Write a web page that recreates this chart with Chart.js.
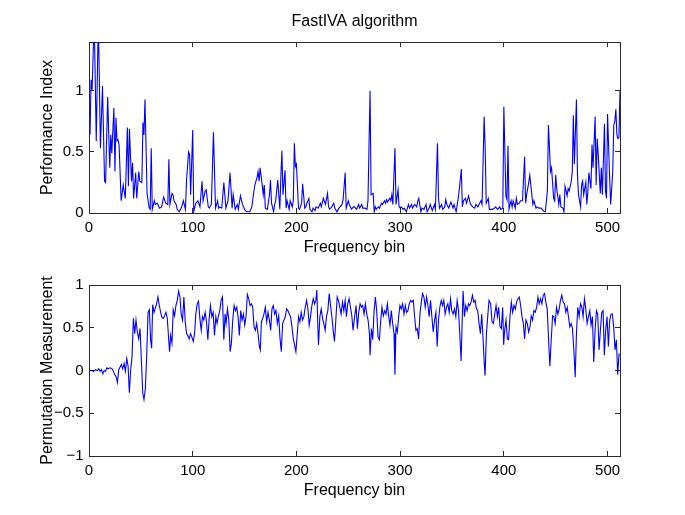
<!DOCTYPE html>
<html>
<head>
<meta charset="utf-8">
<script src="https://cdn.jsdelivr.net/npm/chart.js@4"></script>
<style>
  body { margin: 0; background: #fff; }
  #wrap { position: relative; width: 685px; height: 515px; }
  canvas { position: absolute; left: 0; }
</style>
</head>
<body>
<div id="wrap">
  <canvas id="perfChart" width="685" height="260" style="top:0"></canvas>
  <canvas id="permChart" width="685" height="255" style="top:260px"></canvas>
</div>
<script>
// [frequency bin, value]
const perfIndex = [
  [1,0.64],[2,1.09],[3,1.01],[5,1.6],[7,0.59],[9,1.6],[11,0.53],[13,1.04],[15,0.26],[16,0.25],
  [18,0.95],[20,0.37],[21,0.64],[22,0.49],[24,0.86],[25,0.34],[26,0.78],[27,0.59],[28,0.60],[29,0.56],
  [31,0.10],[33,0.23],[35,0.12],[37,0.70],[38,0.22],[39,0.69],[41,0.26],[42,0.41],[43,0.12],[45,0.33],
  [46,0.12],[48,0.34],[49,0.26],[51,0.25],[52,0.74],[53,0.64],[54,0.93],[56,0.16],[58,0.04],[59,0.03],
  [60,0.53],[61,0.03],[63,0.10],[64,0.07],[66,0.08],[68,0.04],[70,0.05],[72,0.13],[74,0.08],[76,0.07],
  [77,0.44],[78,0.07],[80,0.16],[81,0.15],[82,0.10],[84,0.07],[85,0.03],[87,0.01],[89,0.04],[91,0.10],
  [93,0.03],[94,0.26],[96,0.50],[97,0.48],[98,0.15],[100,0.68],[101,0.01],[103,0.08],[105,0.10],[107,0.05],
  [109,0.26],[110,0.10],[112,0.18],[113,0.19],[115,0.05],[116,0.04],[118,0.07],[120,0.66],[122,0.04],[124,0.10],
  [125,0.04],[126,0.05],[128,0.04],[130,0.25],[132,0.04],[134,0.10],[136,0.33],[138,0.04],[139,0.15],[141,0.03],
  [143,0.07],[144,0.03],[146,0.14],[148,0.07],[150,0.03],[152,0.01],[155,0.01],[157,0.05],[159,0.18],[160,0.23],
  [162,0.29],[163,0.34],[164,0.26],[165,0.37],[167,0.23],[168,0.15],[169,0.23],[170,0.04],[172,0.03],[174,0.15],
  [175,0.27],[176,0.08],[178,0.01],[179,0.07],[180,0.10],[182,0.27],[184,0.03],[185,0.30],[186,0.51],[187,0.15],
  [189,0.35],[190,0.04],[191,0.10],[193,0.03],[194,0.10],[196,0.05],[197,0.10],[198,0.57],[199,0.38],[200,0.40],
  [202,0.04],[203,0.03],[205,0.08],[206,0.24],[208,0.04],[209,0.05],[210,0.08],[212,0.12],[213,0.03],[215,0.01],
  [216,0.04],[218,0.02],[219,0.05],[221,0.04],[223,0.08],[224,0.05],[226,0.12],[228,0.07],[230,0.16],[231,0.05],
  [232,0.03],[234,0.05],[236,0.08],[237,0.04],[239,0.01],[241,0.04],[244,0.07],[245,0.11],[247,0.33],[248,0.04],
  [250,0.10],[251,0.07],[253,0.03],[255,0.05],[256,0.05],[258,0.03],[260,0.07],[261,0.04],[263,0.07],[264,0.04],
  [266,0.04],[268,0.03],[269,0.10],[271,1.00],[272,0.15],[274,0.16],[275,0.01],[276,0.05],[277,0.03],[279,0.05],
  [280,0.04],[282,0.08],[283,0.07],[285,0.10],[286,0.08],[287,0.11],[288,0.09],[290,0.12],[291,0.10],[292,0.15],
  [293,0.07],[295,0.53],[296,0.07],[298,0.19],[299,0.05],[300,0.04],[301,0.05],[303,0.03],[304,0.04],[306,0.01],
  [308,0.07],[309,0.04],[311,0.07],[312,0.04],[314,0.07],[316,0.05],[317,0.10],[318,0.12],[320,0.01],[321,0.04],
  [323,0.03],[325,0.07],[326,0.01],[328,0.04],[329,0.07],[331,0.02],[333,0.07],[334,0.03],[336,0.57],[337,0.12],
  [338,0.04],[340,0.07],[341,0.03],[343,0.05],[344,0.11],[345,0.07],[347,0.04],[348,0.07],[349,0.09],[351,0.04],
  [352,0.07],[354,0.01],[356,0.12],[357,0.19],[359,0.36],[360,0.05],[361,0.10],[363,0.12],[364,0.08],[366,0.14],
  [367,0.10],[368,0.07],[370,0.05],[372,0.04],[373,0.07],[375,0.05],[376,0.07],[378,0.10],[379,0.07],[381,0.79],
  [382,0.53],[383,0.08],[385,0.12],[386,0.03],[388,0.03],[389,0.03],[391,0.04],[392,0.05],[394,0.03],[396,0.05],
  [397,0.03],[399,0.04],[400,0.87],[402,0.14],[403,0.11],[404,0.55],[405,0.03],[406,0.07],[407,0.10],[408,0.05],
  [409,0.10],[411,0.04],[412,0.12],[413,0.07],[415,0.08],[416,0.10],[418,0.10],[420,0.46],[421,0.08],[422,0.15],
  [424,0.25],[425,0.31],[426,0.23],[428,0.07],[429,0.10],[431,0.04],[432,0.05],[434,0.04],[436,0.04],[437,0.03],
  [439,0.01],[440,0.01],[442,0.18],[443,0.72],[445,0.34],[446,0.37],[448,0.12],[449,0.10],[450,0.31],[451,0.20],
  [453,0.07],[454,0.15],[455,0.05],[457,0.04],[458,0.01],[459,0.22],[461,0.14],[462,0.20],[463,0.18],[465,0.26],
  [466,0.34],[467,0.80],[468,0.40],[470,0.93],[471,0.31],[472,0.15],[474,0.05],[475,0.23],[476,0.26],[477,0.15],
  [479,0.25],[480,0.07],[481,0.18],[482,0.33],[484,0.20],[485,0.56],[486,0.37],[488,0.79],[489,0.23],[490,0.61],
  [491,0.48],[493,0.16],[494,0.37],[495,0.15],[497,0.73],[498,0.18],[499,0.12],[500,0.81],[502,0.29],[503,0.07],
  [505,0.34],[506,0.72],[507,0.75],[508,0.85],[509,0.64],[510,0.61],[511,0.62],[512,1.0]
];

const permMeasure = [
  [0.5,0.00],[2.4,0.00],[4.3,-0.01],[6.2,0.01],[8.2,0.00],[9.4,0.02],[10.7,-0.01],[12,0.01],[13.3,-0.04],[14.6,0.00],
  [15.9,-0.01],[17.1,0.03],[18.4,0.02],[19.7,0.03],[21,0.03],[22.3,0.02],[23.5,-0.01],[24.8,-0.05],[26.1,-0.07],[27.4,-0.14],
  [28.7,0.01],[30,0.04],[31.2,0.07],[32.5,0.02],[33.8,0.08],[35.1,-0.01],[36.4,0.14],[37.7,0.05],[38.9,-0.26],[40.2,0.01],
  [41.5,0.16],[42.8,0.61],[44.1,0.43],[45.3,0.59],[46.6,0.45],[47.9,0.37],[49.2,0.49],[50.5,0.12],[51.8,-0.26],[53,-0.34],
  [54.3,-0.22],[55.6,0.16],[56.9,0.68],[58.2,0.71],[59.4,0.36],[60.4,0.26],[61.4,0.77],[62.7,0.68],[64,0.73],[65.2,0.78],
  [66.5,0.86],[67.8,0.76],[69.1,0.68],[70.3,0.62],[71.6,0.61],[72.9,0.64],[74.2,0.68],[75.5,0.61],[76.8,0.37],[77.7,0.22],
  [78.7,0.41],[80,0.32],[81.2,0.71],[82.5,0.64],[83.8,0.76],[85.1,0.82],[86.4,0.93],[87.7,0.86],[88.9,0.66],[90.2,0.59],
  [91.5,0.86],[92.8,0.57],[94.1,0.43],[95.3,0.41],[96.6,0.37],[97.9,0.43],[99.2,0.39],[100.5,0.34],[101.8,0.43],[103,0.66],
  [104.3,0.78],[105.6,0.81],[106.9,0.61],[108.2,0.47],[109.4,0.63],[110.7,0.59],[112,0.68],[113.3,0.57],[114.6,0.36],[115.9,0.61],
  [117.1,0.76],[118.4,0.63],[119.7,0.68],[121,0.41],[122.3,0.63],[123.5,0.55],[124.8,0.64],[126.1,0.70],[127.4,0.82],[128.7,0.86],
  [130,0.36],[131.2,0.66],[132.2,0.55],[133.5,0.72],[134.8,0.59],[136.1,0.22],[137.3,0.32],[138.6,0.59],[139.9,0.76],[141.2,0.70],
  [142.5,0.74],[143.7,0.63],[145,0.41],[146.3,0.70],[147.6,0.59],[148.9,0.66],[150.2,0.53],[151.4,0.63],[152.7,0.89],[154,0.84],
  [155.3,0.76],[156.6,0.78],[157.9,0.74],[159.1,0.51],[160.4,0.47],[161.7,0.55],[163,0.43],[164.3,0.28],[165.2,0.24],[166.2,0.57],
  [167.5,0.61],[168.7,0.66],[170,0.74],[171.3,0.57],[172.6,0.68],[173.9,0.59],[175.2,0.47],[176.4,0.72],[177.7,0.76],[179,0.66],
  [180.3,0.70],[181.6,0.55],[182.9,0.64],[184.1,0.39],[185.4,0.22],[186.7,0.55],[188,0.59],[189.3,0.63],[190.5,0.72],[191.8,0.70],
  [193.1,0.66],[194.4,0.63],[195.7,0.51],[197,0.37],[198.2,0.30],[199.5,0.22],[200.8,0.43],[202.1,0.63],[203.4,0.57],[204.6,0.68],
  [205.9,0.59],[207.2,0.63],[208.5,0.74],[209.8,0.82],[211.1,0.72],[212.3,0.53],[213.6,0.63],[214.9,0.76],[216.2,0.84],[217.5,0.78],
  [218.7,0.82],[219.7,0.94],[220.7,0.49],[221.3,0.30],[222.6,0.63],[223.9,0.72],[225.2,0.61],[226.4,0.55],[227.7,0.47],[229,0.63],
  [230.3,0.70],[231.6,0.90],[232.9,0.76],[234.1,0.64],[235.4,0.47],[236.7,0.34],[238,0.59],[239.3,0.86],[240.5,0.82],[241.8,0.74],
  [243.1,0.66],[244.4,0.80],[245.7,0.70],[247,0.82],[248.2,0.63],[249.5,0.78],[250.8,0.84],[252.1,0.74],[253.4,0.64],[254.6,0.47],
  [255.9,0.61],[257.5,0.76],[258.8,0.49],[260.1,0.68],[261.4,0.78],[262.7,0.74],[263.9,0.76],[265.2,0.66],[266.5,0.78],[267.8,0.66],
  [269.1,0.59],[270.4,0.43],[271,0.18],[272.3,0.49],[273.6,0.36],[274.8,0.68],[276.1,0.86],[277.4,0.70],[278.7,0.39],[280,0.36],
  [281.3,0.59],[282.5,0.74],[283.8,0.64],[285.1,0.70],[286.4,0.66],[287.7,0.78],[288.9,0.64],[290.2,0.53],[291.5,0.70],[292.8,0.55],
  [294.1,0.43],[295,-0.05],[296,0.51],[297.3,0.45],[298.6,0.63],[299.8,0.76],[301.1,0.72],[302.4,0.78],[303.7,0.66],[305,0.76],
  [306.2,0.68],[307.5,0.70],[308.8,0.78],[310.1,0.82],[311.4,0.80],[312.7,0.82],[313.9,0.64],[315.2,0.47],[316.5,0.49],[317.8,0.37],
  [319.1,0.66],[320.4,0.80],[321.6,0.90],[322.9,0.86],[324.2,0.74],[325.5,0.86],[326.8,0.76],[328,0.63],[329.3,0.82],[330.6,0.63],
  [331.9,0.45],[333.2,0.59],[334.5,0.68],[335.7,0.28],[337,0.59],[338.3,0.74],[339.6,0.82],[340.9,0.76],[342.1,0.82],[343.4,0.66],
  [344.7,0.74],[346,0.78],[347.3,0.68],[348.6,0.84],[349.8,0.70],[351.1,0.66],[352.4,0.72],[353.7,0.63],[355,0.82],[356.3,0.70],
  [357.5,0.43],[358.8,0.11],[360.1,0.70],[360.7,0.93],[362,0.63],[363.3,0.76],[364.6,0.70],[365.9,0.78],[367.1,0.76],[368.4,0.80],
  [369.7,0.88],[371,0.80],[372.3,0.82],[373.6,0.72],[374.8,0.70],[376.1,0.55],[377.4,0.43],[378.7,0.66],[380,0.36],[381.2,0.07],
  [381.9,-0.06],[383.2,0.43],[384.5,0.64],[385.7,0.82],[387.3,0.78],[388.6,0.57],[389.9,0.55],[391.2,0.66],[392.5,0.76],[393.8,0.63],
  [395,0.74],[396.3,0.51],[397.6,0.49],[398.9,0.74],[399.8,0.30],[400.8,0.47],[402.1,0.59],[403.4,0.37],[404.6,0.36],[405.9,0.63],
  [407.2,0.80],[408.5,0.68],[409.8,0.76],[411.1,0.72],[412.3,0.80],[413.6,0.84],[414.9,0.86],[416.2,0.76],[417.5,0.63],[418.8,0.55],
  [420,0.37],[421.3,0.59],[422.6,0.55],[423.9,0.45],[425.2,0.51],[426.4,0.64],[427.7,0.59],[429,0.70],[430.3,0.68],[431.6,0.74],
  [432.9,0.86],[434.1,0.78],[435.4,0.84],[436.7,0.78],[438,0.88],[439.3,0.90],[440.5,0.80],[441.8,0.72],[443.1,0.37],[444.4,0.05],
  [445.7,0.36],[447,0.64],[448.2,0.63],[449.5,0.55],[450.8,0.74],[452.1,0.66],[453.4,0.72],[454.6,0.82],[455.9,0.88],[457.2,0.80],
  [458.5,0.78],[459.8,0.68],[461.1,0.74],[462.3,0.63],[463.6,0.51],[464.9,0.55],[466.2,0.49],[467.5,0.24],[468.8,-0.08],[470,0.43],
  [471.3,0.74],[472.6,0.63],[473.9,0.78],[475.2,0.74],[476.4,0.63],[477.7,0.84],[479,0.72],[480.3,0.55],[481.6,0.63],[482.9,0.70],
  [484.1,0.53],[485.4,0.63],[486.7,0.10],[488,0.47],[489.3,0.70],[490.5,0.66],[491.8,0.24],[493.1,0.47],[494.4,0.68],[495.7,0.70],
  [496.9,0.18],[498.2,0.47],[499.5,0.63],[500.8,0.28],[502.1,0.59],[503.4,0.66],[504.7,0.66],[505.9,0.51],[507.2,0.24],[508.5,0.36],
  [509.8,-0.05],[511.1,0.20]
];

const xTicks = [0, 100, 200, 300, 400, 500];
const perfTicks = [0, 0.5, 1];
const permTicks = [-1, -0.5, 0, 0.5, 1];

const FAMILY = '"Liberation Sans", Arial, Helvetica, sans-serif';
const TICK_FONT = { family: FAMILY, size: 15 };
const LABEL_FONT = { family: FAMILY, size: 16, weight: 'normal' };
const AXIS = '#2a2a2a';

function fmt(v) {
  return String(v).replace('-', '\u2212');
}

function buildOptions(yMin, yMax, yTicks, yTitle, titleText, pad) {
  const grid = { drawOnChartArea: false, tickLength: -5, color: AXIS, lineWidth: 1 };
  const border = { display: true, color: AXIS, width: 1 };
  const setTicks = arr => scale => { scale.ticks = arr.map(v => ({ value: v })); };
  return {
    responsive: false,
    animation: false,
    layout: { padding: pad },
    plugins: {
      legend: { display: false },
      tooltip: { enabled: false },
      title: {
        display: !!titleText,
        text: titleText,
        fullSize: false,
        color: '#000',
        font: LABEL_FONT,
        padding: { top: 12, bottom: 10.8 }
      }
    },
    scales: {
      x: {
        type: 'linear', position: 'bottom', min: 0, max: 512,
        afterBuildTicks: setTicks(xTicks),
        afterFit: s => { s.height = 47; },
        grid, border,
        ticks: { color: '#000', font: TICK_FONT, padding: 11, maxRotation: 0, callback: fmt },
        title: { display: true, text: 'Frequency bin', color: '#000', font: LABEL_FONT, padding: { top: 0, bottom: 2.5 } }
      },
      xTop: {
        type: 'linear', position: 'top', min: 0, max: 512,
        afterBuildTicks: setTicks(xTicks),
        afterFit: s => { s.height = 0; },
        grid, border,
        ticks: { display: false }
      },
      y: {
        type: 'linear', position: 'left', min: yMin, max: yMax,
        afterBuildTicks: setTicks(yTicks),
        afterFit: s => { s.width = 89; },
        grid, border,
        ticks: { color: '#000', font: TICK_FONT, padding: 10.5, callback: fmt },
        title: { display: true, text: yTitle, color: '#000', font: LABEL_FONT, padding: { top: 38, bottom: 0 } }
      },
      yRight: {
        type: 'linear', position: 'right', min: yMin, max: yMax,
        afterBuildTicks: setTicks(yTicks),
        afterFit: s => { s.width = 0; },
        grid, border,
        ticks: { display: false }
      }
    }
  };
}

function lineData(pairs) {
  return {
    datasets: [{
      data: pairs.map(p => ({ x: p[0], y: p[1] })),
      borderColor: '#0000ff',
      borderWidth: 1.1,
      pointRadius: 0,
      tension: 0,
      xAxisID: 'x',
      yAxisID: 'y'
    }]
  };
}

new Chart(document.getElementById('perfChart'), {
  type: 'line',
  data: lineData(perfIndex),
  options: buildOptions(0, 1.4, perfTicks, 'Performance Index', 'FastIVA algorithm',
    { left: 0, right: 65, top: 0, bottom: 0 })
});

new Chart(document.getElementById('permChart'), {
  type: 'line',
  data: lineData(permMeasure),
  options: buildOptions(-1, 1, permTicks, 'Permutation Measurement', '',
    { left: 0, right: 65, top: 25, bottom: 12 })
});
</script>
</body>
</html>
